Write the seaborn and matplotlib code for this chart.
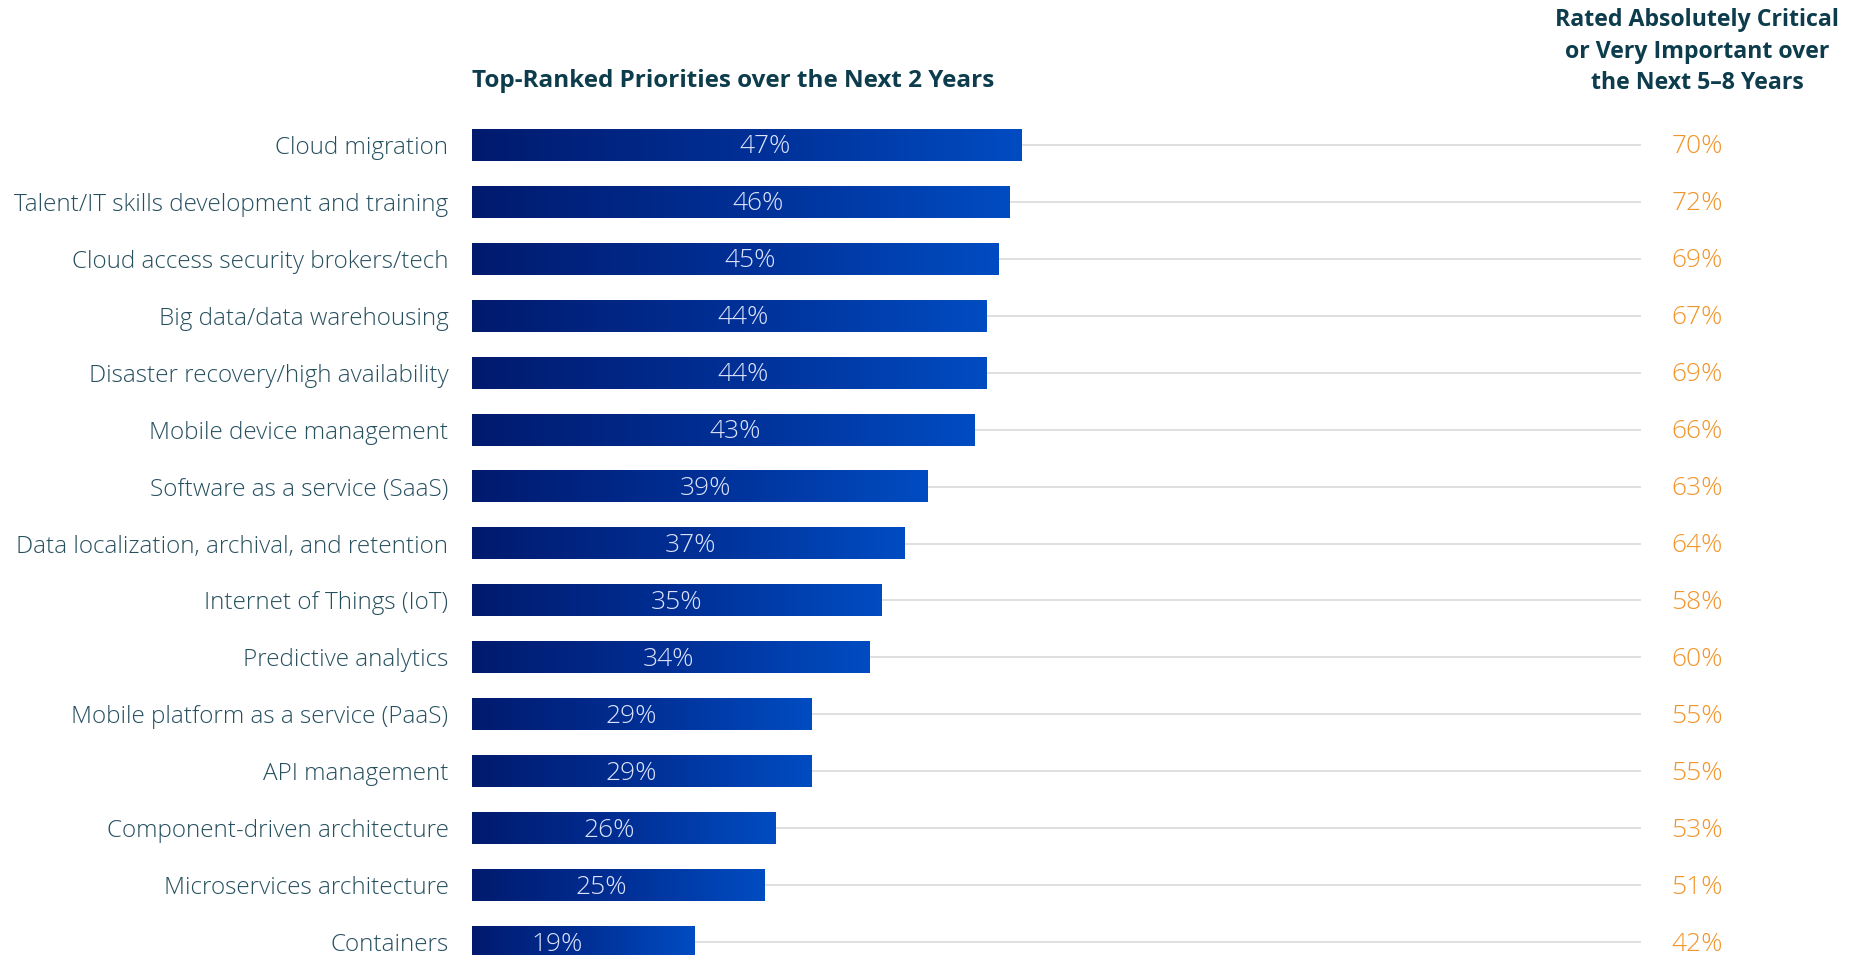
import numpy as np
import pandas as pd
import matplotlib
matplotlib.use("Agg")
import matplotlib.pyplot as plt
from matplotlib.colors import LinearSegmentedColormap
import seaborn as sns

categories = [
    "Cloud migration",
    "Talent/IT skills development and training",
    "Cloud access security brokers/tech",
    "Big data/data warehousing",
    "Disaster recovery/high availability",
    "Mobile device management",
    "Software as a service (SaaS)",
    "Data localization, archival, and retention",
    "Internet of Things (IoT)",
    "Predictive analytics",
    "Mobile platform as a service (PaaS)",
    "API management",
    "Component-driven architecture",
    "Microservices architecture",
    "Containers",
]
top_next_2_years = [47, 46, 45, 44, 44, 43, 39, 37, 35, 34, 29, 29, 26, 25, 19]
critical_5_8_years = [70, 72, 69, 67, 69, 66, 63, 64, 58, 60, 55, 55, 53, 51, 42]

left_title = "Top-Ranked Priorities over the Next 2 Years"
right_title = "Rated Absolutely Critical\nor Very Important over\nthe Next 5\u20138 Years"

sns.set_theme(style="white")
plt.rcParams["font.family"] = ["Open Sans", "DejaVu Sans"]

W, H = 1859, 955
fig = plt.figure(figsize=(W / 100, H / 100), dpi=100)
ax_left, ax_right = 472, 1641
ax = fig.add_axes([ax_left / W, 0, (ax_right - ax_left) / W, 1])

df = pd.DataFrame({"category": categories, "value": top_next_2_years})
sns.barplot(data=df, x="value", y="category", orient="h", ax=ax,
            color="#00237f", width=0.557, zorder=3)

# gridlines behind bars
ax.hlines(range(len(categories)), 0, 100, color="#e0e0e0", lw=1.4, zorder=1)

# gradient fills
cmap = LinearSegmentedColormap.from_list("g", ["#001a6e", "#002f95", "#004cc2"])
grad = np.linspace(0, 1, 256).reshape(1, -1)
for p in list(ax.patches):
    x0, y0, w, h = p.get_x(), p.get_y(), p.get_width(), p.get_height()
    ax.imshow(grad, extent=[x0, x0 + w, y0 + h, y0], aspect="auto",
              cmap=cmap, zorder=3, interpolation="bilinear")
    p.set_facecolor("none")
    p.set_edgecolor("none")

# value labels inside bars
for i, v in enumerate(top_next_2_years):
    ax.text(0.636 * v - 4.8, i + 0.035, f"{v}%", ha="center", va="center",
            color="#dde3fb", fontsize=19, fontweight=300, zorder=5)

# orange values on the right
for i, v in enumerate(critical_5_8_years):
    ax.text(104.8, i + 0.035, f"{v}%", ha="center", va="center", color="#f2952a",
            fontsize=19, fontweight=300, clip_on=False, zorder=5)

ax.set_xlim(0, 100)
ax.set_ylim(14.228, -2.547)
ax.set_xlabel("")
ax.set_ylabel("")
ax.set_xticks([])
ax.tick_params(axis="y", length=0, pad=17, labelsize=17.5, labelcolor="#27505f")
for lbl in ax.get_yticklabels():
    lbl.set_fontweight(300)
for s in ax.spines.values():
    s.set_visible(False)

fig.text(ax_left / W, 1 - 80.6 / H, left_title, ha="left", va="center",
         fontsize=17.5, fontweight="bold", color="#0d3c4c")
fig.text(1697 / W, 1 - 51.5 / H, right_title, ha="center", va="center",
         fontsize=16.7, fontweight="bold", color="#0d3c4c", linespacing=1.4,
         multialignment="center")

fig.savefig("out.png", dpi=100, facecolor="white")
